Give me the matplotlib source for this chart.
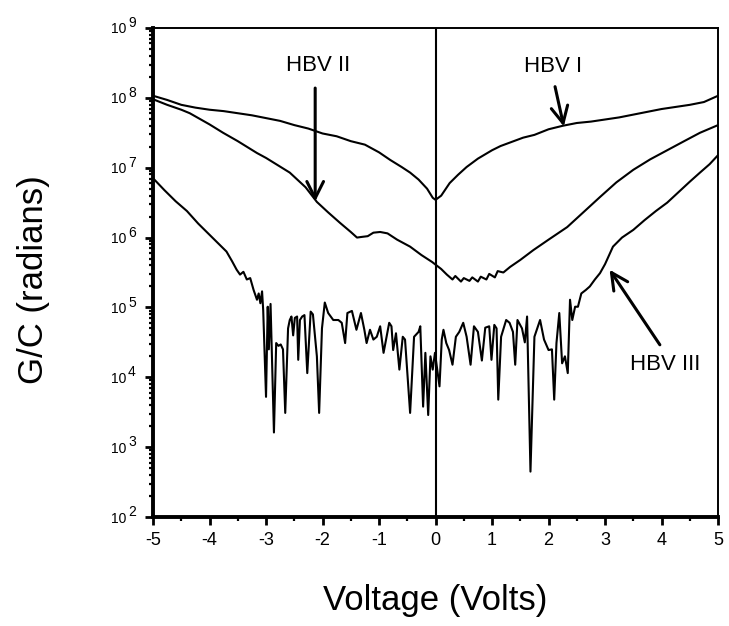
import numpy as np
import matplotlib
matplotlib.use('Agg')
import matplotlib.pyplot as plt
from matplotlib.ticker import LogLocator, NullFormatter, FixedLocator

plt.rcParams['font.family'] = ['Liberation Sans', 'DejaVu Sans']

# Data (log10 of G/C) ####################################
v_1 = [-5.0, -4.75, -4.5, -4.25, -4.0, -3.75, -3.5, -3.25, -3.0, -2.75, -2.5, -2.25,
       -2.0, -1.75, -1.5, -1.25, -1.0, -0.8, -0.6, -0.45, -0.3, -0.15, -0.05, 0.0,
       0.1, 0.25, 0.4, 0.55, 0.75, 1.0, 1.15, 1.35, 1.55, 1.75, 2.0, 2.25, 2.5,
       2.75, 3.0, 3.25, 3.5, 3.75, 4.0, 4.25, 4.5, 4.75, 5.0]
g_1 = [8.03, 7.97, 7.90, 7.86, 7.83, 7.81, 7.78, 7.75, 7.71, 7.67, 7.61, 7.56,
       7.49, 7.45, 7.38, 7.33, 7.22, 7.11, 7.01, 6.93, 6.83, 6.70, 6.57, 6.54,
       6.60, 6.78, 6.90, 7.01, 7.13, 7.25, 7.31, 7.37, 7.43, 7.47, 7.55, 7.60, 7.64,
       7.66, 7.69, 7.72, 7.76, 7.80, 7.84, 7.87, 7.90, 7.94, 8.03]

v_2 = [-5.0, -4.75, -4.5, -4.35, -4.0, -3.76, -3.5, -3.16, -3.0, -2.8, -2.58, -2.3,
       -2.1, -1.9, -1.69, -1.5, -1.39, -1.3, -1.2, -1.1, -0.98, -0.85, -0.68, -0.45,
       -0.25, -0.06, 0.1, 0.2, 0.3, 0.35, 0.45, 0.5, 0.6, 0.65, 0.75, 0.8, 0.9,
       0.95, 1.05, 1.1, 1.2, 1.32, 1.5, 1.73, 2.0, 2.33, 2.6, 2.91, 3.2, 3.5, 3.8,
       4.1, 4.4, 4.68, 5.0]
g_2 = [7.98, 7.90, 7.83, 7.78, 7.62, 7.50, 7.38, 7.21, 7.14, 7.04, 6.93, 6.72,
       6.51, 6.36, 6.21, 6.08, 6.00, 6.01, 6.02, 6.07, 6.08, 6.06, 5.97, 5.87,
       5.75, 5.65, 5.55, 5.47, 5.40, 5.45, 5.37, 5.42, 5.38, 5.43, 5.37, 5.44, 5.40,
       5.48, 5.43, 5.52, 5.50, 5.58, 5.68, 5.82, 5.97, 6.15, 6.35, 6.58, 6.79, 6.97,
       7.12, 7.25, 7.38, 7.50, 7.61]

v_3 = [-5.0, -4.8, -4.6, -4.4, -4.2, -4.0, -3.85, -3.7, -3.6, -3.52, -3.46, -3.4,
       -3.34, -3.28, -3.22, -3.16, -3.13, -3.1, -3.07, -3.05, -3.0, -2.97, -2.95, -2.92,
       -2.86, -2.82, -2.78, -2.74, -2.7, -2.66, -2.61, -2.58, -2.55, -2.52, -2.49, -2.45,
       -2.43, -2.4, -2.36, -2.32, -2.27, -2.21, -2.17, -2.1, -2.06, -2.01, -1.96, -1.9,
       -1.81, -1.72, -1.66, -1.6, -1.56, -1.48, -1.4, -1.32, -1.26, -1.22, -1.16, -1.1,
       -1.04, -0.98, -0.92, -0.82, -0.78, -0.75, -0.7, -0.64, -0.58, -0.54, -0.45, -0.38,
       -0.3, -0.27, -0.22, -0.18, -0.13, -0.09, -0.05, -0.01, 0.03, 0.07, 0.11, 0.14,
       0.19, 0.24, 0.3, 0.36, 0.42, 0.49, 0.55, 0.62, 0.68, 0.75, 0.82, 0.88,
       0.95, 0.99, 1.04, 1.08, 1.11, 1.16, 1.25, 1.31, 1.37, 1.41, 1.45, 1.53,
       1.58, 1.62, 1.68, 1.75, 1.85, 1.92, 2.0, 2.06, 2.1, 2.14, 2.19, 2.24,
       2.29, 2.34, 2.38, 2.42, 2.47, 2.52, 2.58, 2.66, 2.73, 2.82, 2.91, 3.0,
       3.14, 3.3, 3.5, 3.7, 3.9, 4.1, 4.3, 4.5, 4.68, 4.85, 5.0]
g_3 = [6.85, 6.68, 6.52, 6.38, 6.20, 6.04, 5.92, 5.80, 5.66, 5.54, 5.47, 5.51,
       5.40, 5.42, 5.25, 5.11, 5.20, 5.06, 5.23, 4.96, 3.72, 5.01, 4.40, 5.05,
       3.21, 4.49, 4.45, 4.47, 4.40, 3.49, 4.70, 4.82, 4.87, 4.60, 4.85, 4.87,
       4.25, 4.82, 4.87, 4.89, 4.06, 4.94, 4.90, 4.30, 3.49, 4.70, 5.07, 4.92,
       4.82, 4.82, 4.78, 4.49, 4.92, 4.95, 4.68, 4.92, 4.68, 4.49, 4.68, 4.54,
       4.58, 4.73, 4.35, 4.78, 4.73, 4.39, 4.63, 4.11, 4.58, 4.54, 3.49, 4.58,
       4.65, 4.73, 3.58, 4.35, 3.46, 4.30, 4.11, 4.35, 4.11, 3.87, 4.54, 4.68,
       4.49, 4.39, 4.18, 4.58, 4.65, 4.78, 4.58, 4.18, 4.73, 4.65, 4.24, 4.71,
       4.73, 4.25, 4.75, 4.70, 3.68, 4.58, 4.82, 4.78, 4.65, 4.18, 4.82, 4.70,
       4.50, 4.87, 2.65, 4.58, 4.82, 4.54, 4.39, 4.40, 3.68, 4.49, 4.92, 4.20,
       4.30, 4.06, 5.11, 4.82, 5.01, 5.01, 5.20, 5.25, 5.30, 5.40, 5.49, 5.62,
       5.87, 6.00, 6.11, 6.25, 6.38, 6.50, 6.65, 6.80, 6.93, 7.05, 7.18]

labels = ['HBV I', 'HBV II', 'HBV III']
label_pos = [(2.085, 8.45), (-2.07, 8.47), (4.06, 4.18)]
arrow_tail = [(2.115, 8.16), (-2.13, 8.14), (3.97, 4.465)]
arrow_tip = [(2.27, 7.59), (-2.13, 6.515), (3.08, 5.54)]
volts = [-5, -4, -3, -2, -1, 0, 1, 2, 3, 4, 5]
decades = [2, 3, 4, 5, 6, 7, 8, 9]
##########################################################

fig = plt.figure(figsize=(7.29, 6.26), dpi=100)
ax = fig.add_axes([0.2099, 0.1741, 0.7751, 0.7812])

for v, g in [(v_1, g_1), (v_2, g_2), (v_3, g_3)]:
    ax.plot(v, 10.0 ** np.array(g), color='black', lw=1.5)

ax.axvline(0, color='black', lw=1.5)

ax.set_yscale('log')
ax.set_xlim(-5, 5)
ax.set_ylim(1e2, 1e9)

# spines
for side in ['left', 'bottom']:
    ax.spines[side].set_linewidth(2.8)
for side in ['top', 'right']:
    ax.spines[side].set_linewidth(1.4)

# ticks
ax.xaxis.set_major_locator(FixedLocator(volts))
ax.xaxis.set_minor_locator(FixedLocator([t + 0.5 for t in volts[:-1]]))
ax.yaxis.set_major_locator(FixedLocator([10.0 ** k for k in decades]))
ax.yaxis.set_minor_locator(LogLocator(base=10, subs=np.arange(2, 10), numticks=20))
ax.yaxis.set_minor_formatter(NullFormatter())
ax.tick_params(axis='both', which='major', direction='out', length=5.5, width=2,
               top=False, right=False)
ax.tick_params(axis='both', which='minor', direction='out', length=3, width=1.6,
               top=False, right=False)
ax.tick_params(axis='x', which='major', labelsize=13, pad=5)
ax.tick_params(axis='y', which='major', labelsize=10, pad=14)
ax.set_xticklabels([str(t) for t in volts])
ax.set_yticklabels(['10' for _ in decades])
for k in decades:
    ax.annotate(str(k), xy=(0, 10.0 ** k), xycoords=('axes fraction', 'data'),
                xytext=(-18, 3.5), textcoords='offset points',
                ha='left', va='center', fontsize=10)

ax.set_xlabel('Voltage (Volts)', fontsize=25)
ax.set_ylabel('G/C (radians)', fontsize=25)
ax.xaxis.set_label_coords(0.5, -0.138)
ax.yaxis.set_label_coords(-0.182, 0.485)

for lab, pos, tail, tip in zip(labels, label_pos, arrow_tail, arrow_tip):
    ax.text(pos[0], 10.0 ** pos[1], lab, fontsize=16, ha='center', va='center')
    ax.annotate('', xy=(tip[0], 10.0 ** tip[1]), xytext=(tail[0], 10.0 ** tail[1]),
                arrowprops=dict(arrowstyle='->,head_length=0.6,head_width=0.3',
                                lw=2.2, color='black', mutation_scale=20,
                                shrinkA=0, shrinkB=0))

fig.savefig('out.png', dpi=100)
